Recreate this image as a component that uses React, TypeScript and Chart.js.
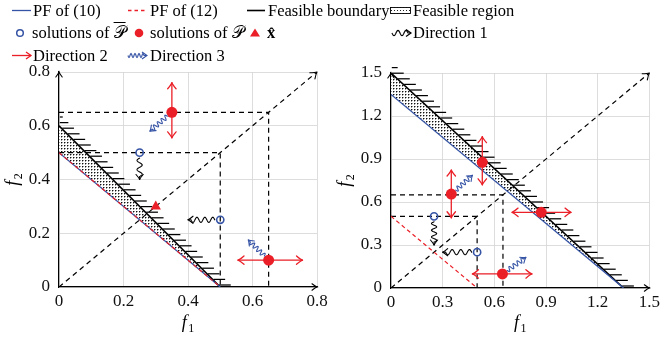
import React, { useEffect, useRef } from "react";
import { Chart, registerables } from "chart.js";

Chart.register(...registerables);

type Pt = [number, number];
type Seg = [Pt, Pt];

const FONT = '"Liberation Serif", "Times New Roman", serif';
const BLUE = "#3654a6";
const RED = "#ea1f27";
const GRID = "#d4d4d4";

// ---------------- left panel data ----------------
const leftXTicks = [0, 0.2, 0.4, 0.6, 0.8];
const leftYTicks = [0, 0.2, 0.4, 0.6, 0.8];
const leftDiagonal: Pt[] = [[0, 0], [0.8, 0.8]];
const leftGuideHigh: Pt[] = [[0, 0.65], [0.65, 0.65], [0.65, 0]];
const leftGuideLow: Pt[] = [[0, 0.5], [0.5, 0.5], [0.5, 0]];
const leftPF10: Pt[] = [[0, 0.5], [0.5, 0]];
const leftPF12: Pt[] = [[0, 0.5], [0.5, 0]];
const leftBoundary: Pt[] = [[0, 0.6], [0.5, 0]];
const leftSolBar: Pt[] = [[0.25, 0.5], [0.5, 0.25]];
const leftSol: Pt[] = [[0.35, 0.65], [0.65, 0.1]];
const leftXHat: Pt[] = [[0.3, 0.3]];
const leftDir1: Seg[] = [[[0.25, 0.5], [0.25, 0.4]], [[0.5, 0.25], [0.4, 0.25]]];
const leftDir2: Seg[] = [[[0.35, 0.555], [0.35, 0.76]], [[0.555, 0.1], [0.755, 0.1]]];
const leftDir3: Seg[] = [[[0.35, 0.65], [0.282, 0.58]], [[0.65, 0.1], [0.587, 0.175]]];

// ---------------- right panel data ----------------
const rightXTicks = [0, 0.3, 0.6, 0.9, 1.2, 1.5];
const rightYTicks = [0, 0.3, 0.6, 0.9, 1.2, 1.5];
const rightDiagonal: Pt[] = [[0, 0], [1.5, 1.5]];
const rightGuideHigh: Pt[] = [[0, 0.65], [0.65, 0.65], [0.65, 0]];
const rightGuideLow: Pt[] = [[0, 0.5], [0.5, 0.5], [0.5, 0]];
const rightPF10: Pt[] = [[0, 1.35], [1.35, 0]];
const rightPF12: Pt[] = [[0, 0.5], [0.5, 0]];
const rightBoundary: Pt[] = [[0, 1.5], [1.35, 0]];
const rightSolBar: Pt[] = [[0.25, 0.5], [0.5, 0.25]];
const rightSol: Pt[] = [[0.35, 0.655], [0.53, 0.877], [0.872, 0.528], [0.647, 0.098]];
const rightDir1: Seg[] = [[[0.25, 0.5], [0.25, 0.3]], [[0.5, 0.25], [0.3, 0.25]]];
const rightDir2: Seg[] = [
  [[0.35, 0.49], [0.35, 0.823]],
  [[0.53, 0.72], [0.53, 1.056]],
  [[0.703, 0.528], [1.045, 0.528]],
  [[0.473, 0.098], [0.818, 0.098]],
];
const rightDir3: Seg[] = [[[0.35, 0.655], [0.473, 0.786]], [[0.647, 0.098], [0.783, 0.214]]];

interface Panel {
  xMax: number;
  yMax: number;
  xTicks: number[];
  yTicks: number[];
  diag: Pt[];
  guides: Pt[][];
  pf10: Pt[];
  pf12: Pt[];
  boundary: Pt[];
  solBar: Pt[];
  sol: Pt[];
  xhat: Pt[];
  dir1: Seg[];
  dir2: Seg[];
  dir3: Seg[];
  top: number;
  bottom: number;
  padRight: number;
}

const leftPanel: Panel = {
  xMax: 0.8, yMax: 0.8, xTicks: leftXTicks, yTicks: leftYTicks,
  diag: leftDiagonal, guides: [leftGuideHigh, leftGuideLow],
  pf10: leftPF10, pf12: leftPF12, boundary: leftBoundary,
  solBar: leftSolBar, sol: leftSol, xhat: leftXHat,
  dir1: leftDir1, dir2: leftDir2, dir3: leftDir3,
  top: 72, bottom: 287, padRight: 15,
};

const rightPanel: Panel = {
  xMax: 1.5, yMax: 1.5, xTicks: rightXTicks, yTicks: rightYTicks,
  diag: rightDiagonal, guides: [rightGuideHigh, rightGuideLow],
  pf10: rightPF10, pf12: rightPF12, boundary: rightBoundary,
  solBar: rightSolBar, sol: rightSol, xhat: [],
  dir1: rightDir1, dir2: rightDir2, dir3: rightDir3,
  top: 73, bottom: 288, padRight: 12,
};

const toXY = (pts: Pt[]) => pts.map(([x, y]) => ({ x, y }));

// ---------- drawing helpers ----------
function wavePoints(x0: number, y0: number, x1: number, y1: number, amp: number, wl: number, tail: number): Pt[] {
  const dx = x1 - x0, dy = y1 - y0;
  const L = Math.hypot(dx, dy);
  const ux = dx / L, uy = dy / L, nx = -uy, ny = ux;
  const waveLen = Math.max(0, L - tail);
  const n = Math.max(1, Math.round(waveLen / wl));
  const w = waveLen / n;
  const steps = Math.max(2, Math.ceil(waveLen * 3));
  const pts: Pt[] = [];
  for (let i = 0; i <= steps; i++) {
    const s = (waveLen * i) / steps;
    const a = amp * Math.sin((2 * Math.PI * s) / w);
    pts.push([x0 + ux * s + nx * a, y0 + uy * s + ny * a]);
  }
  pts.push([x1, y1]);
  return pts;
}

function headPoints(tx: number, ty: number, ux: number, uy: number, len: number, spread: number): Pt[] {
  const nx = -uy, ny = ux;
  return [
    [tx - ux * len + nx * spread, ty - uy * len + ny * spread],
    [tx, ty],
    [tx - ux * len - nx * spread, ty - uy * len - ny * spread],
  ];
}

function strokePoly(ctx: CanvasRenderingContext2D, pts: Pt[]) {
  ctx.beginPath();
  pts.forEach(([x, y], i) => (i ? ctx.lineTo(x, y) : ctx.moveTo(x, y)));
  ctx.stroke();
}

function strokeHead(ctx: CanvasRenderingContext2D, tx: number, ty: number, ux: number, uy: number, len: number, spread: number) {
  const [a, t, b] = headPoints(tx, ty, ux, uy, len, spread);
  const nx = -uy, ny = ux;
  ctx.beginPath();
  ctx.moveTo(a[0], a[1]);
  ctx.quadraticCurveTo(t[0] - ux * len * 0.3 + nx * spread * 0.15, t[1] - uy * len * 0.3 + ny * spread * 0.15, t[0], t[1]);
  ctx.quadraticCurveTo(t[0] - ux * len * 0.3 - nx * spread * 0.15, t[1] - uy * len * 0.3 - ny * spread * 0.15, b[0], b[1]);
  ctx.stroke();
}

function pathD(pts: Pt[]) {
  return pts.map(([x, y], i) => `${i ? "L" : "M"}${x.toFixed(2)},${y.toFixed(2)}`).join(" ");
}

function makeDecor(p: Panel) {
  return {
    id: "decor",
    beforeDatasetsDraw(chart: any) {
      const ctx: CanvasRenderingContext2D = chart.ctx;
      const xs = chart.scales.x, ys = chart.scales.y;
      const area = chart.chartArea;
      const b = p.boundary;
      const x0 = xs.getPixelForValue(b[0][0]), y0 = ys.getPixelForValue(b[0][1]);
      const x1 = xs.getPixelForValue(b[b.length - 1][0]), y1 = ys.getPixelForValue(b[b.length - 1][1]);
      ctx.save();
      ctx.strokeStyle = "#000";
      ctx.lineWidth = 1.25;
      for (let py = y1 - 2; py >= y0 - 14; py -= 5.6) {
        const t = (py - y0) / (y1 - y0);
        const px = x0 + t * (x1 - x0);
        const s = Math.max(px + 0.8, area.left + 0.8);
        const e = px + 12.5;
        if (e <= s + 1) continue;
        ctx.beginPath();
        ctx.moveTo(s, py);
        ctx.lineTo(e, py);
        ctx.stroke();
      }
      ctx.restore();
    },
    afterDatasetsDraw(chart: any) {
      const ctx: CanvasRenderingContext2D = chart.ctx;
      const xs = chart.scales.x, ys = chart.scales.y;
      const P = (pt: Pt): Pt => [xs.getPixelForValue(pt[0]), ys.getPixelForValue(pt[1])];
      ctx.save();
      ctx.lineCap = "round";
      ctx.lineJoin = "round";
      // diagonal arrow head
      {
        const a = P(p.diag[0]), e = P(p.diag[p.diag.length - 1]);
        const L = Math.hypot(e[0] - a[0], e[1] - a[1]);
        ctx.strokeStyle = "#000";
        ctx.lineWidth = 1.1;
        strokeHead(ctx, e[0], e[1], (e[0] - a[0]) / L, (e[1] - a[1]) / L, 6, 4);
      }
      // direction 1 (black wavy) & direction 3 (blue wavy)
      const wavy = (segs: Seg[], color: string, offset: number, amp: number, wl: number) => {
        segs.forEach(([from, to]) => {
          const a = P(from), e = P(to);
          const L = Math.hypot(e[0] - a[0], e[1] - a[1]);
          const ux = (e[0] - a[0]) / L, uy = (e[1] - a[1]) / L;
          const sx = a[0] + ux * offset, sy = a[1] + uy * offset;
          ctx.strokeStyle = color;
          ctx.lineWidth = 1.1;
          strokePoly(ctx, wavePoints(sx, sy, e[0], e[1], amp, wl, 3));
          strokeHead(ctx, e[0], e[1], ux, uy, 5, 3.6);
        });
      };
      wavy(p.dir1, "#000", 5.5, 2.6, 8);
      wavy(p.dir3, BLUE, 6, 2.3, 5.5);
      // direction 2 (red double arrows)
      p.dir2.forEach(([from, to]) => {
        const a = P(from), e = P(to);
        const L = Math.hypot(e[0] - a[0], e[1] - a[1]);
        const ux = (e[0] - a[0]) / L, uy = (e[1] - a[1]) / L;
        ctx.strokeStyle = RED;
        ctx.lineWidth = 1.3;
        strokePoly(ctx, [a, e]);
        strokeHead(ctx, e[0], e[1], ux, uy, 6, 4.2);
        strokeHead(ctx, a[0], a[1], -ux, -uy, 6, 4.2);
      });
      ctx.restore();
    },
    afterDraw(chart: any) {
      const ctx: CanvasRenderingContext2D = chart.ctx;
      const area = chart.chartArea;
      ctx.save();
      ctx.strokeStyle = "#000";
      ctx.lineWidth = 1.1;
      ctx.lineCap = "round";
      strokeHead(ctx, area.right, area.bottom, 1, 0, 5, 3.2);
      strokeHead(ctx, area.left, area.top, 0, -1, 5, 3.2);
      const drawTitle = (sub: string, cx: number, cy: number, rot: number) => {
        ctx.save();
        ctx.translate(cx, cy);
        ctx.rotate(rot);
        ctx.fillStyle = "#000";
        ctx.textAlign = "left";
        ctx.textBaseline = "alphabetic";
        ctx.font = `italic 18px ${FONT}`;
        const wf = ctx.measureText("f").width;
        ctx.font = `12px ${FONT}`;
        const ws = ctx.measureText(sub).width;
        const x = -(wf + ws + 1.5) / 2;
        ctx.font = `italic 18px ${FONT}`;
        ctx.fillText("f", x, 0);
        ctx.font = `12px ${FONT}`;
        ctx.fillText(sub, x + wf + 1.5, 3.5);
        ctx.restore();
      };
      drawTitle("1", (area.left + area.right) / 2, 328, 0);
      drawTitle("2", 18, (area.top + area.bottom) / 2, -Math.PI / 2);
      ctx.restore();
    },
  };
}

function makeDatasets(p: Panel, pattern: any) {
  const line = (data: Pt[], color: string, width: number, order: number, dash: number[] = []) => ({
    data: toXY(data),
    showLine: true,
    borderColor: color,
    borderWidth: width,
    borderDash: dash,
    pointRadius: 0,
    pointHoverRadius: 0,
    fill: false,
    order,
  });
  const region = [...p.boundary, ...p.pf10.slice().reverse()];
  const ds: any[] = [
    {
      data: toXY(p.sol), showLine: false, pointStyle: "circle", pointRadius: 5.5, pointHoverRadius: 5.5,
      pointBackgroundColor: RED, pointBorderColor: RED, pointBorderWidth: 0, order: 0,
    },
    {
      data: toXY(p.solBar), showLine: false, pointStyle: "circle", pointRadius: 3.6, pointHoverRadius: 3.6,
      pointBackgroundColor: "rgba(255,255,255,0)", pointBorderColor: BLUE, pointBorderWidth: 1.6, order: 0,
    },
  ];
  if (p.xhat.length) {
    ds.push({
      data: toXY(p.xhat), showLine: false, pointStyle: "triangle", pointRadius: 6, pointHoverRadius: 6,
      pointBackgroundColor: RED, pointBorderColor: RED, pointBorderWidth: 0, order: 0,
    });
  }
  ds.push(line(p.pf12, RED, 1.2, 1, [4, 3]));
  ds.push(line(p.pf10, BLUE, 1.3, 2));
  ds.push(line(p.boundary, "#000", 1.6, 2));
  p.guides.forEach((g) => ds.push(line(g, "#000", 1.2, 3, [5, 4])));
  ds.push(line(p.diag, "#000", 1.2, 3, [5, 4]));
  ds.push({
    data: toXY(region), showLine: true, borderWidth: 0, borderColor: "rgba(0,0,0,0)",
    pointRadius: 0, pointHoverRadius: 0, fill: "shape", backgroundColor: pattern, order: 5,
  });
  return ds;
}

function makeConfig(p: Panel, pattern: any): any {
  const axis = (ticks: number[], max: number, isX: boolean) => ({
    type: "linear",
    min: 0,
    max,
    afterBuildTicks: (s: any) => {
      s.ticks = ticks.map((v) => ({ value: v }));
    },
    afterFit: (s: any) => {
      if (isX) s.height = 337 - p.bottom;
      else s.width = 59;
    },
    grid: { color: GRID, lineWidth: 0.8, drawTicks: false },
    border: { display: true, color: "#000", width: 1.2 },
    ticks: {
      color: "#111",
      font: { family: FONT, size: 17 },
      padding: isX ? 4 : 9,
      maxRotation: 0,
      autoSkip: false,
      callback: (v: number) => String(v),
    },
  });
  return {
    type: "line",
    data: { datasets: makeDatasets(p, pattern) },
    options: {
      responsive: false,
      animation: false,
      events: [],
      layout: { padding: { top: p.top, right: p.padRight, left: 0, bottom: 0 } },
      plugins: { legend: { display: false }, tooltip: { enabled: false } },
      scales: { x: axis(p.xTicks, p.xMax, true), y: axis(p.yTicks, p.yMax, false) },
    },
    plugins: [makeDecor(p)],
  };
}

function makeDotPattern(): any {
  const c = document.createElement("canvas");
  c.width = 3;
  c.height = 3;
  const g = c.getContext("2d")!;
  g.fillStyle = "#ffffff";
  g.fillRect(0, 0, 3, 3);
  g.fillStyle = "#111";
  g.fillRect(1, 1, 1, 1);
  g.fillStyle = "#9a9a9a";
  g.fillRect(2, 1, 1, 1);
  g.fillRect(1, 2, 1, 1);
  return g.createPattern(c, "repeat") || "#bbb";
}

// ---------------- legend ----------------
const legendRowY = [10.5, 33, 55.5];

function LegendText({ x, cy, children }: { x: number; cy: number; children: React.ReactNode }) {
  return (
    <div
      style={{
        position: "absolute", left: x, top: cy - 10, height: 20, lineHeight: "20px",
        fontFamily: FONT, fontSize: 16.5, whiteSpace: "nowrap", color: "#000",
      }}
    >
      {children}
    </div>
  );
}

function headPath(tx: number, ty: number, ux: number, uy: number) {
  return pathD(headPoints(tx, ty, ux, uy, 5, 3.5));
}

function Legend() {
  const [r1, r2, r3] = legendRowY;
  const w1 = pathD(wavePoints(392, r2, 411, r2, 2.6, 8, 3));
  const w3 = pathD(wavePoints(128, r3, 147, r3, 2, 4.5, 3));
  return (
    <>
      <svg width={664} height={70} style={{ position: "absolute", left: 0, top: 0 }}>
        <defs>
          <pattern id="dots" width="3" height="3" patternUnits="userSpaceOnUse">
            <rect x="1" y="1" width="1" height="1" fill="#222" />
          </pattern>
        </defs>
        <line x1={12} y1={r1} x2={31} y2={r1} stroke={BLUE} strokeWidth={1.3} />
        <line x1={128} y1={r1} x2={147} y2={r1} stroke={RED} strokeWidth={1.3} strokeDasharray="3.5 3" />
        <line x1={247} y1={r1} x2={265} y2={r1} stroke="#000" strokeWidth={1.6} />
        <rect x={390.5} y={r1 - 3} width={20} height={6} fill="url(#dots)" stroke="#000" strokeWidth={0.9} />
        <circle cx={20} cy={r2} r={3.3} fill="none" stroke={BLUE} strokeWidth={1.5} />
        <circle cx={139} cy={r2} r={4.3} fill={RED} />
        <polygon points={`255,${r2 - 4.5} 250,${r2 + 3.5} 260,${r2 + 3.5}`} fill={RED} />
        <path d={w1} stroke="#000" fill="none" strokeWidth={1.2} />
        <path d={headPath(411, r2, 1, 0)} stroke="#000" fill="none" strokeWidth={1.2} />
        <line x1={12} y1={r3} x2={31} y2={r3} stroke={RED} strokeWidth={1.3} />
        <path d={headPath(31, r3, 1, 0)} stroke={RED} fill="none" strokeWidth={1.3} />
        <path d={w3} stroke={BLUE} fill="none" strokeWidth={1.1} />
        <path d={headPath(147, r3, 1, 0)} stroke={BLUE} fill="none" strokeWidth={1.1} />
      </svg>
      <LegendText x={33} cy={r1}>PF of (10)</LegendText>
      <LegendText x={150} cy={r1}>PF of (12)</LegendText>
      <LegendText x={268} cy={r1}>Feasible boundary</LegendText>
      <LegendText x={413} cy={r1}>Feasible region</LegendText>
      <LegendText x={32} cy={r2}>
        solutions of <span style={{ textDecoration: "overline" }}>{"\u{1D4AB}"}</span>
      </LegendText>
      <LegendText x={150} cy={r2}>solutions of {"\u{1D4AB}"}</LegendText>
      <LegendText x={267} cy={r2}>
        <b>{"x\u0302"}</b>
      </LegendText>
      <LegendText x={413} cy={r2}>Direction 1</LegendText>
      <LegendText x={33} cy={r3}>Direction 2</LegendText>
      <LegendText x={150} cy={r3}>Direction 3</LegendText>
    </>
  );
}

export default function App() {
  const leftRef = useRef<HTMLCanvasElement>(null);
  const rightRef = useRef<HTMLCanvasElement>(null);
  useEffect(() => {
    const pattern = makeDotPattern();
    const c1 = new Chart(leftRef.current!, makeConfig(leftPanel, pattern));
    const c2 = new Chart(rightRef.current!, makeConfig(rightPanel, pattern));
    return () => {
      c1.destroy();
      c2.destroy();
    };
  }, []);
  return (
    <div style={{ position: "absolute", left: 0, top: 0, width: 664, height: 337, background: "#fff", overflow: "hidden" }}>
      <canvas ref={leftRef} width={332} height={337} style={{ position: "absolute", left: 0, top: 0, width: 332, height: 337 }} />
      <canvas ref={rightRef} width={332} height={337} style={{ position: "absolute", left: 332, top: 0, width: 332, height: 337 }} />
      <Legend />
    </div>
  );
}
